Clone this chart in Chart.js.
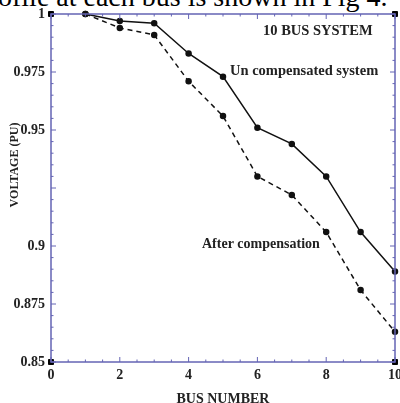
<!DOCTYPE html>
<html>
<head>
<meta charset="utf-8">
<script src="https://cdn.jsdelivr.net/npm/chart.js@4.4.1/dist/chart.umd.min.js"></script>
<style>
  html, body { margin: 0; padding: 0; background: #fff; overflow: hidden; }
  #wrap { position: relative; width: 400px; height: 403px; overflow: hidden; }
  #cap { position: absolute; left: -2px; top: -17px; font: 28px/28px 'Liberation Serif', serif; color: #000; white-space: nowrap; }
  canvas { position: absolute; left: 0; top: 0; }
</style>
</head>
<body>
<div id="wrap">
  <div id="cap">ofile at each bus is shown in Fig 4.</div>
  <canvas id="grafico" width="400" height="403"></canvas>
</div>
<script>
// datos
const busNumbers = [1, 2, 3, 4, 5, 6, 7, 8, 9, 10];
const voltUncomp = [1.0, 0.997, 0.996, 0.983, 0.973, 0.951, 0.944, 0.930, 0.906, 0.889];
const voltComp = [1.0, 0.994, 0.991, 0.971, 0.956, 0.930, 0.922, 0.906, 0.881, 0.863];
const cornerX = [0, 0, 10, 10];
const cornerY = [0.85, 1, 1, 0.85];
const xTicks = [0, 2, 4, 6, 8, 10];
const yTicks = [0.85, 0.875, 0.9, 0.925, 0.95, 0.975, 1];
const yTickLabels = ['0.85', '0.875', '0.9', '', '0.95', '0.975', '1'];

const axisColor = '#6464b4';
const serif = "'Liberation Serif', 'Times New Roman', serif";

// marco, ticks hacia dentro y textos
const marco = {
  id: 'marco',
  afterDatasetsDraw(chart) {
    const { ctx, chartArea: a, scales: { x, y } } = chart;
    ctx.save();
    ctx.strokeStyle = axisColor;
    ctx.lineWidth = 1.5;
    ctx.strokeRect(a.left, a.top, a.right - a.left, a.bottom - a.top);
    ctx.lineWidth = 1;
    // ticks del eje x
    for (let v = 0; v <= 10.001; v += 0.5) {
      const px = x.getPixelForValue(v);
      const len = Math.abs(v % 2) < 0.01 ? 5 : 2.5;
      ctx.beginPath();
      ctx.moveTo(px, a.bottom); ctx.lineTo(px, a.bottom - len);
      ctx.moveTo(px, a.top); ctx.lineTo(px, a.top + len);
      ctx.stroke();
    }
    // ticks del eje y
    for (let i = 0; i <= 30; i++) {
      const v = 0.85 + i * 0.005;
      const py = y.getPixelForValue(v);
      const len = i % 5 === 0 ? 5 : 2.5;
      ctx.beginPath();
      ctx.moveTo(a.left, py); ctx.lineTo(a.left + len, py);
      ctx.moveTo(a.right, py); ctx.lineTo(a.right - len, py);
      ctx.stroke();
    }
    // textos
    ctx.fillStyle = '#222';
    ctx.textBaseline = 'middle';
    ctx.textAlign = 'left';
    ctx.font = 'bold 14.5px ' + serif;
    ctx.fillText('10 BUS SYSTEM', 263, 31);
    ctx.fillText('Un compensated system', 230, 71);
    ctx.font = 'bold 14px ' + serif;
    ctx.fillText('After compensation', 202, 244);
    ctx.textAlign = 'center';
    ctx.fillText('BUS NUMBER', (a.left + a.right) / 2, 399);
    ctx.translate(15, 165);
    ctx.rotate(-Math.PI / 2);
    ctx.font = 'bold 12px ' + serif;
    ctx.fillText('VOLTAGE (PU)', 0, 0);
    ctx.restore();
  }
};

const ctx = document.getElementById('grafico').getContext('2d');
new Chart(ctx, {
  type: 'line',
  data: {
    datasets: [
      {
        label: 'Un compensated system',
        data: busNumbers.map((b, i) => ({ x: b, y: voltUncomp[i] })),
        borderColor: '#111',
        backgroundColor: '#111',
        borderWidth: 1.5,
        pointRadius: 2.5,
        pointHoverRadius: 2.5,
        tension: 0,
        clip: false
      },
      {
        label: 'After compensation',
        data: busNumbers.map((b, i) => ({ x: b, y: voltComp[i] })),
        borderColor: '#111',
        backgroundColor: '#111',
        borderWidth: 1.5,
        borderDash: [5, 4],
        pointRadius: 2.5,
        pointHoverRadius: 2.5,
        tension: 0,
        clip: false
      },
      {
        label: 'esquinas',
        data: cornerX.map((c, i) => ({ x: c, y: cornerY[i] })),
        showLine: false,
        pointStyle: 'rect',
        pointRadius: 3.5,
        borderColor: '#000',
        backgroundColor: '#000',
        clip: false
      }
    ]
  },
  options: {
    responsive: false,
    animation: false,
    events: [],
    layout: { padding: 0 },
    plugins: { legend: { display: false }, tooltip: { enabled: false } },
    scales: {
      x: {
        type: 'linear',
        min: 0,
        max: 10,
        afterBuildTicks: s => { s.ticks = xTicks.map(v => ({ value: v })); },
        afterFit: s => { s.height = 41; s.paddingLeft = 0; s.paddingRight = 2; },
        grid: { display: false, drawTicks: false },
        border: { display: false },
        ticks: {
          color: '#222',
          font: { family: serif, size: 14, weight: 'bold' },
          padding: 5,
          maxRotation: 0,
          callback: v => String(v)
        }
      },
      y: {
        min: 0.85,
        max: 1,
        afterBuildTicks: s => { s.ticks = yTicks.map(v => ({ value: v })); },
        afterFit: s => { s.width = 51; s.paddingTop = 14; s.paddingBottom = 0; },
        grid: { display: false, drawTicks: false },
        border: { display: false },
        ticks: {
          color: '#222',
          font: { family: serif, size: 14, weight: 'bold' },
          padding: 6,
          callback: (v, i) => yTickLabels[i]
        }
      }
    }
  },
  plugins: [marco]
});
</script>
</body>
</html>
